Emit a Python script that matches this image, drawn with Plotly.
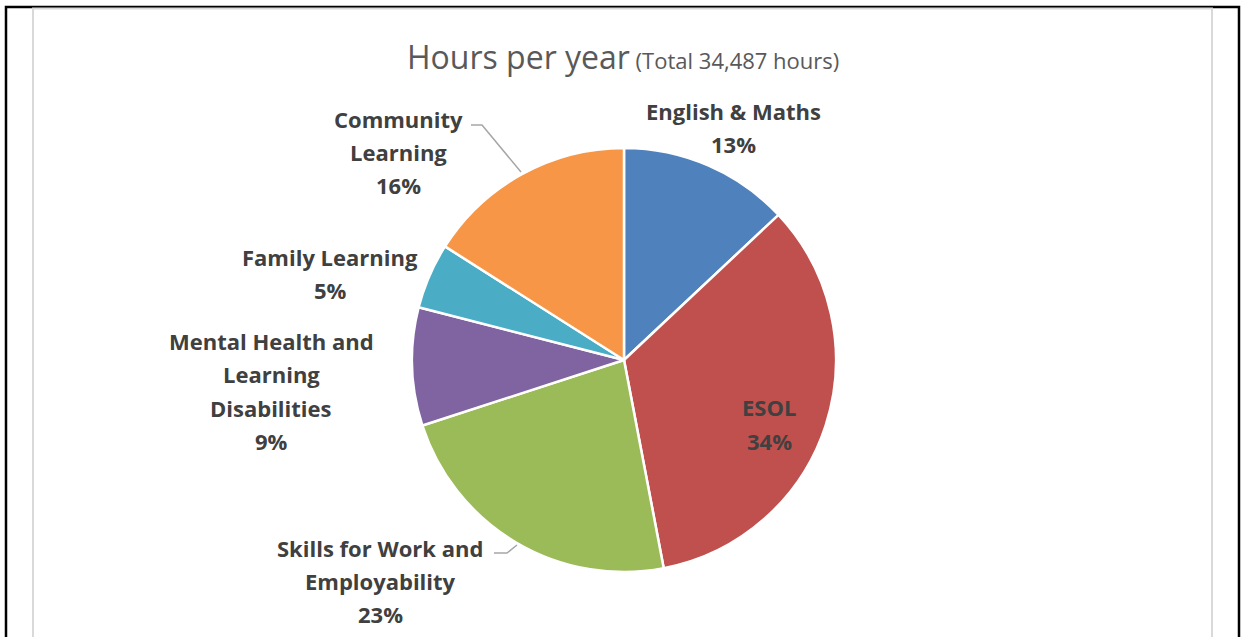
import plotly.graph_objects as go

categories = ["English & Maths", "ESOL", "Skills for Work and Employability",
              "Mental Health and Learning Disabilities", "Family Learning", "Community Learning"]
shares = [13, 34, 23, 9, 5, 16]
colors = ["#4F81BD", "#C0504D", "#9BBB59", "#8064A2", "#4BACC6", "#F79646"]
label_lines = [["English & Maths"], ["ESOL"], ["Skills for Work and", "Employability"],
               ["Mental Health and", "Learning", "Disabilities"], ["Family Learning"],
               ["Community", "Learning"]]
total_hours = "34,487"

W, H = 1242, 637
cx, cy, r = 624, 360, 212

def px(x):
    return x / W

def py(y):
    return 1 - y / H

fig = go.Figure(go.Pie(
    labels=categories, values=shares, sort=False, direction="clockwise", rotation=0,
    marker=dict(colors=colors, line=dict(color="white", width=2.5)),
    textinfo="none", hoverinfo="label+percent", showlegend=False,
    domain=dict(x=[px(cx - r), px(cx + r)], y=[py(cy + r), py(cy - r)]),
))

# label block centres (pixel) for each slice
label_pos = [(733, 127.5), (769, 424), (380, 581), (271, 391), (330, 273.5), (398, 152)]
line_gap = 33.3
font = dict(family="'Open Sans', sans-serif", size=22, color="#404040")
annotations = []
tot = sum(shares)
for lines, v, (x, y) in zip(label_lines, shares, label_pos):
    all_lines = lines + [f"{round(100 * v / tot)}%"]
    n = len(all_lines)
    for i, ln in enumerate(all_lines):
        yy = y + (i - (n - 1) / 2) * line_gap
        annotations.append(dict(x=px(x), y=py(yy), xref="paper", yref="paper",
                                text="<b>" + ln + "</b>", showarrow=False, font=font,
                                xanchor="center", yanchor="middle"))

annotations.append(dict(
    x=px(623), y=py(56), xref="paper", yref="paper", showarrow=False,
    xanchor="center", yanchor="middle",
    text="<span style='font-size:32px'>Hours per year</span>"
         f"<span style='font-size:22px'> (Total {total_hours} hours)</span>",
    font=dict(family="'Open Sans', sans-serif", color="#595959"),
))

shapes = [
    # outer black frame
    dict(type="rect", xref="paper", yref="paper", x0=px(6), x1=px(1239), y0=py(660), y1=py(7),
         line=dict(color="black", width=2.5), fillcolor="rgba(0,0,0,0)", layer="below"),
    # chart area gray border
    dict(type="rect", xref="paper", yref="paper", x0=px(33), x1=px(1212), y0=py(660), y1=py(8.5),
         line=dict(color="#d9d9d9", width=2), fillcolor="white", layer="below"),
    # leader lines
    dict(type="path", xref="paper", yref="paper",
         path=f"M {px(471)} {py(125)} L {px(482)} {py(125)} L {px(521)} {py(172)}",
         line=dict(color="#a6a6a6", width=1.5)),
    dict(type="path", xref="paper", yref="paper",
         path=f"M {px(494)} {py(553)} L {px(507)} {py(553)} L {px(517)} {py(545)}",
         line=dict(color="#a6a6a6", width=1.5)),
]

fig.update_layout(width=W, height=H, margin=dict(l=0, r=0, t=0, b=0),
                  paper_bgcolor="white", plot_bgcolor="white",
                  annotations=annotations, shapes=shapes)
fig.write_html("out.html")
